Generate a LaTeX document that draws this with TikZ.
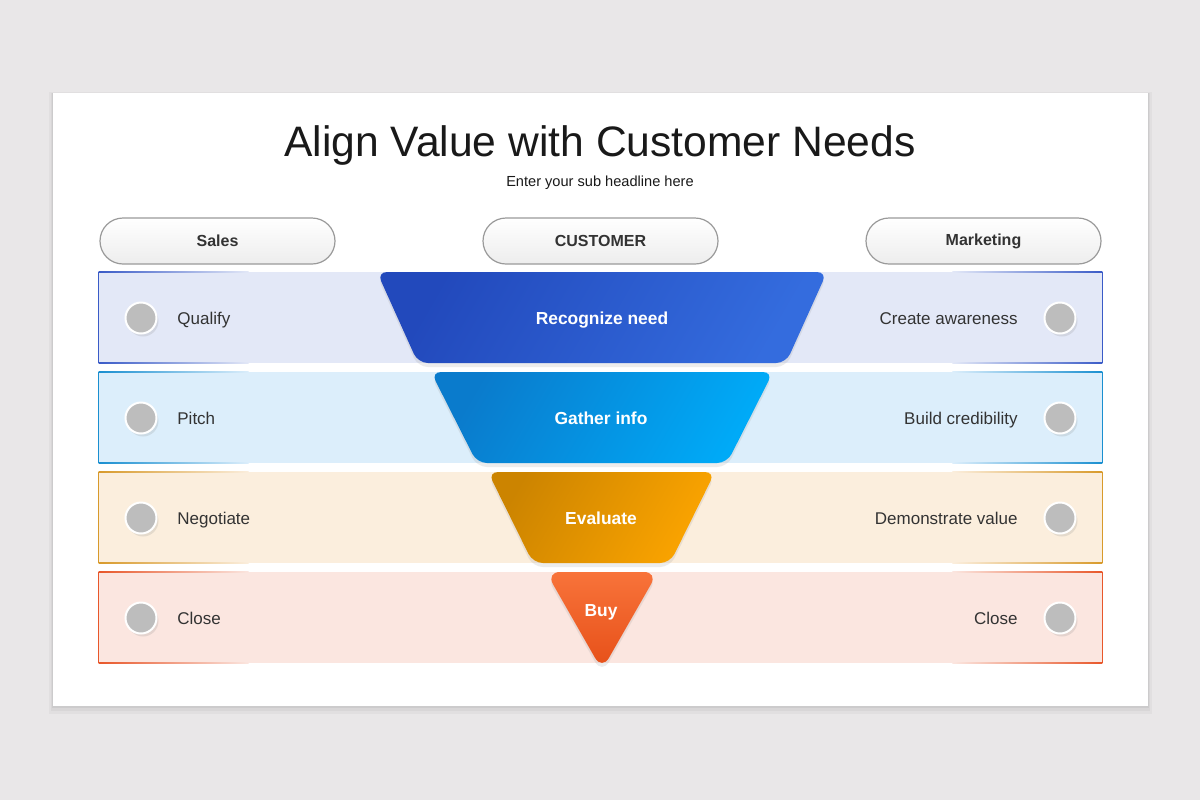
\documentclass[tikz,border=0pt]{standalone}
\usepackage{fontspec}
\setmainfont{Liberation Sans}
\usetikzlibrary{shadows}
\definecolor{bgc}{HTML}{E9E7E8}
\definecolor{txt}{HTML}{333333}
\definecolor{pillb}{HTML}{9A9A9A}
\definecolor{dotc}{HTML}{BDBDBD}
\definecolor{fa}{HTML}{E3E8F7}\definecolor{ba}{HTML}{3A5BC7}
\definecolor{fb}{HTML}{DCEEFB}\definecolor{bb}{HTML}{1A8FD0}
\definecolor{fc}{HTML}{FBEEDD}\definecolor{bc}{HTML}{D89A2B}
\definecolor{fd}{HTML}{FBE6E0}\definecolor{bd}{HTML}{E8572A}
\definecolor{ga1}{HTML}{2249BC}\definecolor{ga2}{HTML}{346CDE}
\definecolor{gb1}{HTML}{0A7BCC}\definecolor{gb2}{HTML}{00AAF7}
\definecolor{gc1}{HTML}{CC8400}\definecolor{gc2}{HTML}{FBA400}
\definecolor{gd1}{HTML}{E64F18}\definecolor{gd2}{HTML}{F8733A}
\tikzset{
  pill/.style={draw=pillb, line width=0.6pt, top color=white, bottom color=black!7,
    rounded corners=11.5pt, minimum width=117.5pt, minimum height=23pt,
    font=\bfseries\fontsize{8}{10}\selectfont, text=txt, inner sep=0pt},
  rowbox/.style={minimum width=501.5pt, minimum height=45.5pt, inner sep=0pt},
  dot/.style={circle, fill=dotc, draw=white, line width=1pt, minimum size=15.5pt, inner sep=0pt,
    drop shadow={shadow xshift=1pt, shadow yshift=-1.5pt, opacity=0.18}},
  lbl/.style={font=\fontsize{8.5}{10}\selectfont, text=txt, inner sep=0pt},
  flbl/.style={font=\bfseries\fontsize{8.7}{10}\selectfont, text=white, inner sep=0pt},
  fun/.style={rounded corners=5pt, drop shadow={shadow xshift=0pt, shadow yshift=-2pt, opacity=0.15}},
}
\newcommand{\rowrect}[3]{%
  \fill[#2] (#1.north west) rectangle (#1.south east);
  \draw[#3, line width=0.6pt] (#1.north west) -- (#1.south west);
  \draw[#3, line width=0.6pt] (#1.north east) -- (#1.south east);
  \shade[left color=#3, right color=#2] (#1.north west) rectangle ([xshift=75pt,yshift=-0.6pt]#1.north west);
  \shade[left color=#3, right color=#2] ([yshift=0.6pt]#1.south west) rectangle ([xshift=75pt]#1.south west);
  \shade[left color=#2, right color=#3] ([xshift=-75pt]#1.north east) rectangle ([yshift=-0.6pt]#1.north east);
  \shade[left color=#2, right color=#3] ([xshift=-75pt,yshift=0.6pt]#1.south east) rectangle (#1.south east);
}
\begin{document}
\begin{tikzpicture}[x=0.5pt,y=-0.5pt]
\useasboundingbox (0,0) rectangle (1200,800);
\fill[bgc] (0,0) rectangle (1200,800);
% card with soft shadow
\fill[black,opacity=0.03] (49,92) rectangle (1152,714);
\fill[black,opacity=0.04] (51,93) rectangle (1150,711);
\fill[black,opacity=0.05] (52,93) rectangle (1149,708);
\fill[white] (53,93) rectangle (1148,706);
% titles
\node[text=black!90, font=\fontsize{21.3}{25}\selectfont, inner sep=0pt] (title) at (600,145) {Align Value with Customer Needs};
\node[text=black!90, font=\fontsize{7.3}{9}\selectfont, inner sep=0pt] (sub) at (600,183) {Enter your sub headline here};
% pills
\node[pill] (sales) at (217.5,241) {Sales};
\node[pill] (cust) at (600.5,241) {CUSTOMER};
\node[pill] (mkt) at (983.5,241) {Marketing};
% rows
\node[rowbox] (r1) at (600.5,317.5) {};
\node[rowbox] (r2) at (600.5,417.5) {};
\node[rowbox] (r3) at (600.5,517.5) {};
\node[rowbox] (r4) at (600.5,617.5) {};
\rowrect{r1}{fa}{ba}
\rowrect{r2}{fb}{bb}
\rowrect{r3}{fc}{bc}
\rowrect{r4}{fd}{bd}
% dots and side labels
\node[dot] (d1l) at (141,318) {};
\node[dot] (d2l) at (141,418) {};
\node[dot] (d3l) at (141,518) {};
\node[dot] (d4l) at (141,618) {};
\node[dot] (d1r) at (1060,318) {};
\node[dot] (d2r) at (1060,418) {};
\node[dot] (d3r) at (1060,518) {};
\node[dot] (d4r) at (1060,618) {};
\node[lbl, anchor=base west] (l1) at (177,324) {Qualify};
\node[lbl, anchor=base west] (l2) at (177,424) {Pitch};
\node[lbl, anchor=base west] (l3) at (177,524) {Negotiate};
\node[lbl, anchor=base west] (l4) at (177,624) {Close};
\node[lbl, anchor=base east] (m1) at (1018,324) {Create awareness};
\node[lbl, anchor=base east] (m2) at (1018,424) {Build credibility};
\node[lbl, anchor=base east] (m3) at (1018,524) {Demonstrate value};
\node[lbl, anchor=base east] (m4) at (1018,624) {Close};
% funnel
\path[fun, left color=ga1, right color=ga2, shading angle=60]
  (377,272) -- (827,272) -- (786,363) -- (418,363) -- cycle;
\path[fun, left color=gb1, right color=gb2, shading angle=60]
  (431,372) -- (773,372) -- (727,463) -- (477,463) -- cycle;
\path[fun, left color=gc1, right color=gc2, shading angle=60]
  (488,472) -- (715,472) -- (670,563) -- (533,563) -- cycle;
\path[fun, top color=gd2, bottom color=gd1, rounded corners=7pt]
  (546,572) -- (658,572) -- (602,670) -- cycle;
\node[flbl, anchor=base] (f1) at (602,324) {Recognize need};
\node[flbl, anchor=base] (f2) at (601,424) {Gather info};
\node[flbl, anchor=base] (f3) at (601,524) {Evaluate};
\node[flbl, anchor=base] (f4) at (601,616) {Buy};
\end{tikzpicture}
\end{document}
